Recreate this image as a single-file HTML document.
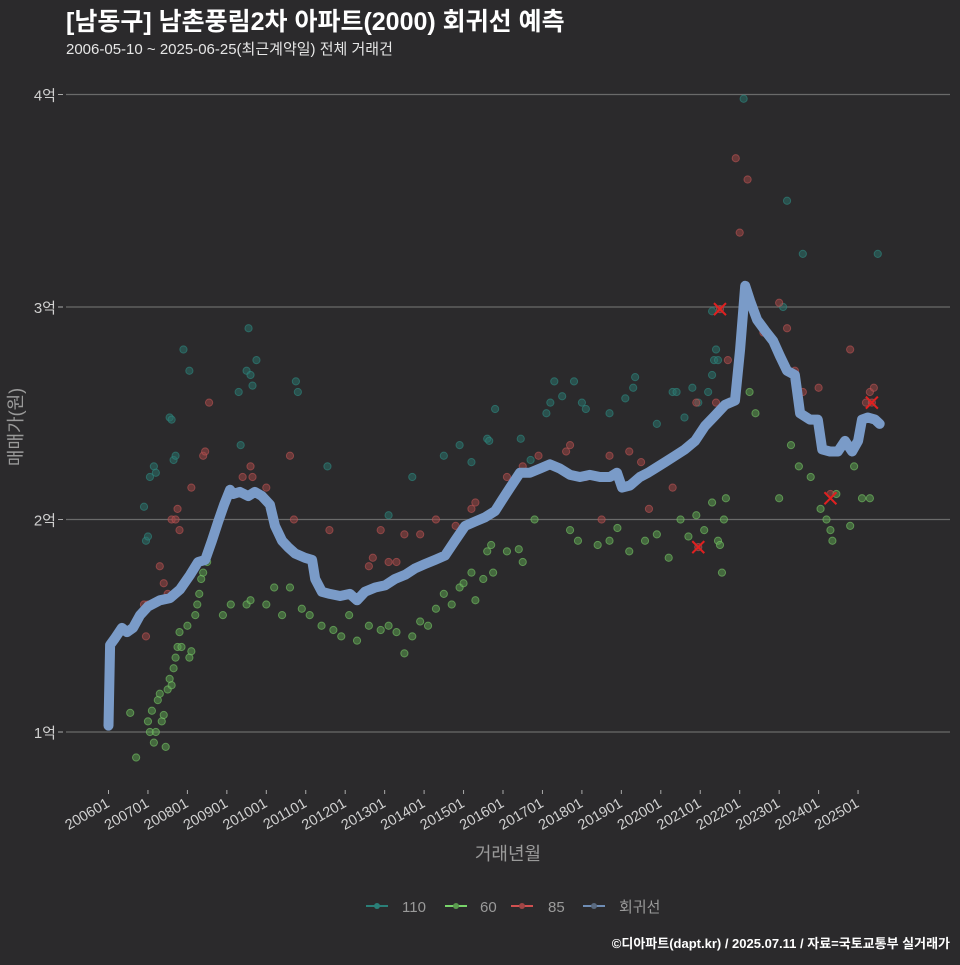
<!DOCTYPE html>
<html><head><meta charset="utf-8">
<style>
body{margin:0;background:#2b2a2c;width:960px;height:960px;overflow:hidden;font-family:"Liberation Sans","Noto Sans CJK KR",sans-serif;}
svg text{font-family:"Liberation Sans","Noto Sans CJK KR",sans-serif;}
</style></head>
<body>
<svg id="chart" width="960" height="960" xmlns="http://www.w3.org/2000/svg">
<rect width="960" height="960" fill="#2b2a2c"/>
<text x="66" y="30" fill="#ffffff" font-size="25" font-weight="bold">[남동구] 남촌풍림2차 아파트(2000) 회귀선 예측</text>
<text x="66" y="54" fill="#e6e6e6" font-size="15">2006-05-10 ~ 2025-06-25(최근계약일) 전체 거래건</text>
<g id="grid"></g><g id="pts"></g><g id="line"></g><g id="marks"></g><g id="axes"></g>
<text x="508" y="860" fill="#9a9a9a" font-size="18" text-anchor="middle">거래년월</text>
<text x="22" y="427" fill="#9a9a9a" font-size="18" text-anchor="middle" transform="rotate(-90 22 427)">매매가(원)</text>
<g font-size="15" fill="#9a9a9a">
<g><line x1="366" y1="906" x2="388" y2="906" stroke="#2a7f78" stroke-width="2"/><circle cx="377" cy="906" r="3" fill="#2a7f78"/><text x="402" y="912">110</text></g>
<g><line x1="445" y1="906" x2="467" y2="906" stroke="#78d46a" stroke-width="2"/><circle cx="456" cy="906" r="3" fill="#5a9a4e"/><text x="480" y="912">60</text></g>
<g><line x1="511" y1="906" x2="533" y2="906" stroke="#d05050" stroke-width="2"/><circle cx="522" cy="906" r="3" fill="#a04545"/><text x="548" y="912">85</text></g>
<g><line x1="583" y1="906" x2="605" y2="906" stroke="#6f8db5" stroke-width="2"/><circle cx="594" cy="906" r="3" fill="#5a6a80"/><text x="619" y="912">회귀선</text></g>
</g>
<text x="950" y="948" fill="#ffffff" font-size="13" font-weight="bold" text-anchor="end">©디아파트(dapt.kr) / 2025.07.11 / 자료=국토교통부 실거래가</text>
</svg>
<script>
const yTicks=[1,2,3,4];
const xTickLabels=['200601','200701','200801','200901','201001','201101','201201','201301','201401','201501','201601','201701','201801','201901','202001','202101','202201','202301','202401','202501'];
const xTickYears=[2006,2007,2008,2009,2010,2011,2012,2013,2014,2015,2016,2017,2018,2019,2020,2021,2022,2023,2024,2025];
const lineT=[2006.0,2006.04,2006.16,2006.34,2006.47,2006.62,2006.8,2007.0,2007.3,2007.56,2007.81,2008.07,2008.27,2008.45,2008.62,2008.78,2008.93,2009.08,2009.16,2009.33,2009.54,2009.71,2009.89,2010.09,2010.22,2010.4,2010.55,2010.73,2010.98,2011.16,2011.24,2011.41,2011.61,2011.87,2012.12,2012.3,2012.5,2012.76,2013.01,2013.26,2013.52,2013.77,2014.02,2014.28,2014.53,2014.78,2015.04,2015.29,2015.54,2015.8,2015.97,2016.18,2016.43,2016.68,2016.94,2017.19,2017.44,2017.7,2017.95,2018.2,2018.46,2018.71,2018.89,2019.02,2019.22,2019.47,2019.68,2019.85,2020.11,2020.36,2020.61,2020.87,2021.12,2021.38,2021.63,2021.88,2022.01,2022.14,2022.26,2022.44,2022.64,2022.85,2023.02,2023.2,2023.4,2023.53,2023.78,2023.98,2024.09,2024.29,2024.49,2024.67,2024.85,2025.0,2025.1,2025.25,2025.43,2025.55];
const lineV=[1.03,1.41,1.44,1.49,1.47,1.49,1.55,1.59,1.62,1.63,1.67,1.74,1.8,1.81,1.9,1.99,2.07,2.14,2.12,2.13,2.11,2.13,2.11,2.07,1.97,1.9,1.87,1.84,1.82,1.81,1.72,1.66,1.65,1.64,1.65,1.62,1.66,1.68,1.69,1.72,1.74,1.77,1.79,1.81,1.83,1.9,1.97,1.99,2.01,2.04,2.09,2.15,2.22,2.22,2.24,2.26,2.24,2.21,2.2,2.21,2.2,2.2,2.22,2.15,2.16,2.2,2.22,2.24,2.27,2.3,2.33,2.37,2.44,2.49,2.54,2.56,2.8,3.1,3.03,2.94,2.89,2.84,2.77,2.7,2.68,2.5,2.47,2.47,2.33,2.32,2.32,2.37,2.32,2.37,2.47,2.48,2.47,2.45];
const s110T=[2006.9,2006.95,2007.0,2007.05,2007.15,2007.2,2007.55,2007.6,2007.65,2007.7,2007.9,2008.05,2009.3,2009.35,2009.5,2009.55,2009.6,2009.65,2009.75,2010.75,2010.8,2011.55,2013.1,2013.7,2014.5,2014.9,2015.2,2015.6,2015.65,2015.8,2016.45,2016.7,2017.1,2017.2,2017.3,2017.5,2017.8,2018.0,2018.1,2018.7,2019.1,2019.3,2019.35,2019.9,2020.3,2020.4,2020.6,2020.8,2020.95,2021.2,2021.3,2021.35,2021.4,2021.45,2021.3,2022.1,2023.1,2023.2,2023.6,2025.5];
const s110V=[2.06,1.9,1.92,2.2,2.25,2.22,2.48,2.47,2.28,2.3,2.8,2.7,2.6,2.35,2.7,2.9,2.68,2.63,2.75,2.65,2.6,2.25,2.02,2.2,2.3,2.35,2.27,2.38,2.37,2.52,2.38,2.28,2.5,2.55,2.65,2.58,2.65,2.55,2.52,2.5,2.57,2.62,2.67,2.45,2.6,2.6,2.48,2.62,2.55,2.6,2.68,2.75,2.8,2.75,2.98,3.98,3.0,3.5,3.25,3.25];
const s60T=[2006.55,2006.7,2007.0,2007.05,2007.1,2007.15,2007.2,2007.25,2007.3,2007.35,2007.4,2007.45,2007.5,2007.55,2007.6,2007.65,2007.7,2007.75,2007.8,2007.85,2008.0,2008.05,2008.1,2008.2,2008.25,2008.3,2008.35,2008.4,2008.5,2008.9,2009.1,2009.5,2009.6,2010.0,2010.2,2010.4,2010.6,2010.9,2011.1,2011.4,2011.7,2011.9,2012.1,2012.3,2012.6,2012.9,2013.1,2013.3,2013.5,2013.7,2013.9,2014.1,2014.3,2014.5,2014.7,2014.9,2015.0,2015.2,2015.3,2015.5,2015.6,2015.7,2015.75,2016.1,2016.4,2016.5,2016.8,2017.7,2017.9,2018.4,2018.7,2018.9,2019.2,2019.6,2019.9,2020.2,2020.5,2020.7,2020.9,2021.1,2021.3,2021.45,2021.5,2021.55,2021.6,2021.65,2022.25,2022.4,2023.0,2023.3,2023.5,2023.8,2024.05,2024.2,2024.3,2024.35,2024.45,2024.8,2024.9,2025.1,2025.3];
const s60V=[1.09,0.88,1.05,1.0,1.1,0.95,1.0,1.15,1.18,1.05,1.08,0.93,1.2,1.25,1.22,1.3,1.35,1.4,1.47,1.4,1.5,1.35,1.38,1.55,1.6,1.65,1.72,1.75,1.8,1.55,1.6,1.6,1.62,1.6,1.68,1.55,1.68,1.58,1.55,1.5,1.48,1.45,1.55,1.43,1.5,1.48,1.5,1.47,1.37,1.45,1.52,1.5,1.58,1.65,1.6,1.68,1.7,1.75,1.62,1.72,1.85,1.88,1.75,1.85,1.86,1.8,2.0,1.95,1.9,1.88,1.9,1.96,1.85,1.9,1.93,1.82,2.0,1.92,2.02,1.95,2.08,1.9,1.88,1.75,2.0,2.1,2.6,2.5,2.1,2.35,2.25,2.2,2.05,2.0,1.95,1.9,2.12,1.97,2.25,2.1,2.1];
const s85T=[2006.9,2006.95,2007.0,2007.3,2007.4,2007.5,2007.6,2007.7,2007.75,2007.8,2008.1,2008.4,2008.45,2008.55,2009.4,2009.6,2009.65,2010.0,2010.6,2010.7,2011.6,2012.6,2012.7,2012.9,2013.1,2013.3,2013.5,2013.9,2014.3,2014.8,2015.2,2015.3,2016.1,2016.5,2016.9,2017.6,2017.7,2018.1,2018.5,2018.7,2019.2,2019.5,2019.7,2020.3,2020.9,2020.95,2021.4,2021.5,2021.7,2021.9,2022.0,2022.2,2022.6,2023.0,2023.2,2023.4,2023.6,2024.0,2024.3,2024.8,2025.2,2025.3,2025.4,2025.35];
const s85V=[1.6,1.45,1.6,1.78,1.7,1.65,2.0,2.0,2.05,1.95,2.15,2.3,2.32,2.55,2.2,2.25,2.2,2.15,2.3,2.0,1.95,1.78,1.82,1.95,1.8,1.8,1.93,1.93,2.0,1.97,2.05,2.08,2.2,2.25,2.3,2.32,2.35,2.2,2.0,2.3,2.32,2.27,2.05,2.15,2.55,1.87,2.55,2.99,2.75,3.7,3.35,3.6,2.88,3.02,2.9,2.7,2.6,2.62,2.12,2.8,2.55,2.6,2.62,2.55];
const markT=[2021.5,2020.95,2024.3,2025.35];
const markV=[2.99,1.87,2.1,2.55];

const NS='http://www.w3.org/2000/svg';
function X(t){return 108.5+(t-2006)*39.45;}
function Y(v){return 732-(v-1)*212.5;}
function mk(tag,attrs,parent){const e=document.createElementNS(NS,tag);for(const k in attrs)e.setAttribute(k,attrs[k]);document.getElementById(parent).appendChild(e);return e;}

yTicks.forEach(v=>{
  const g=mk('line',{x1:66,x2:950,y1:Y(v),y2:Y(v),stroke:'#6a6a6a','stroke-width':1.2},'grid');
  
  
  const tk=mk('line',{x1:58,x2:63,y1:Y(v),y2:Y(v),stroke:'#aaa'},'axes');
  
  
  const t=mk('text',{x:56,y:Y(v)+6,fill:'#d0d0d0','font-size':15,'text-anchor':'end'},'axes');
  t.textContent=v+'억';
  
  
});
xTickYears.forEach((yr,i)=>{
  const x=X(yr);
  const tk=mk('line',{x1:x,x2:x,y1:790,y2:794,stroke:'#aaa'},'axes');
  
  
  const t=mk('text',{x:x+2,y:806,fill:'#d0d0d0','font-size':14.5,'text-anchor':'end',transform:`rotate(-30 ${x+2} 806)`},'axes');
  t.textContent=xTickLabels[i];
  
  
});
function scatter(T,V,fill,stroke,name){
  T.forEach((t,i)=>{
    const c=mk('circle',{cx:X(t),cy:Y(V[i]),r:3.6,fill:fill,'fill-opacity':0.55,stroke:stroke,'stroke-opacity':0.6,'stroke-width':1},'pts');
    
    
  });
}
scatter(s110T,s110V,'#2a6f6a','#2f8a82','point-110');
scatter(s60T,s60V,'#5a9a4e','#78c868','point-60');
scatter(s85T,s85V,'#9a4545','#c05555','point-85');
const d=lineT.map((t,i)=>(i?'L':'M')+X(t).toFixed(1)+','+Y(lineV[i]).toFixed(1)).join('');
const p=mk('path',{d:d,fill:'none',stroke:'#7a9bc8','stroke-width':10,'stroke-linejoin':'round','stroke-linecap':'round'},'line');


markT.forEach((t,i)=>{
  const x=X(t),y=Y(markV[i]);
  const g=mk('path',{d:`M${x-6},${y-6}L${x+6},${y+6}M${x-6},${y+6}L${x+6},${y-6}`,stroke:'#e02020','stroke-width':2},'marks');
  
  
});
</script>
</body></html>
